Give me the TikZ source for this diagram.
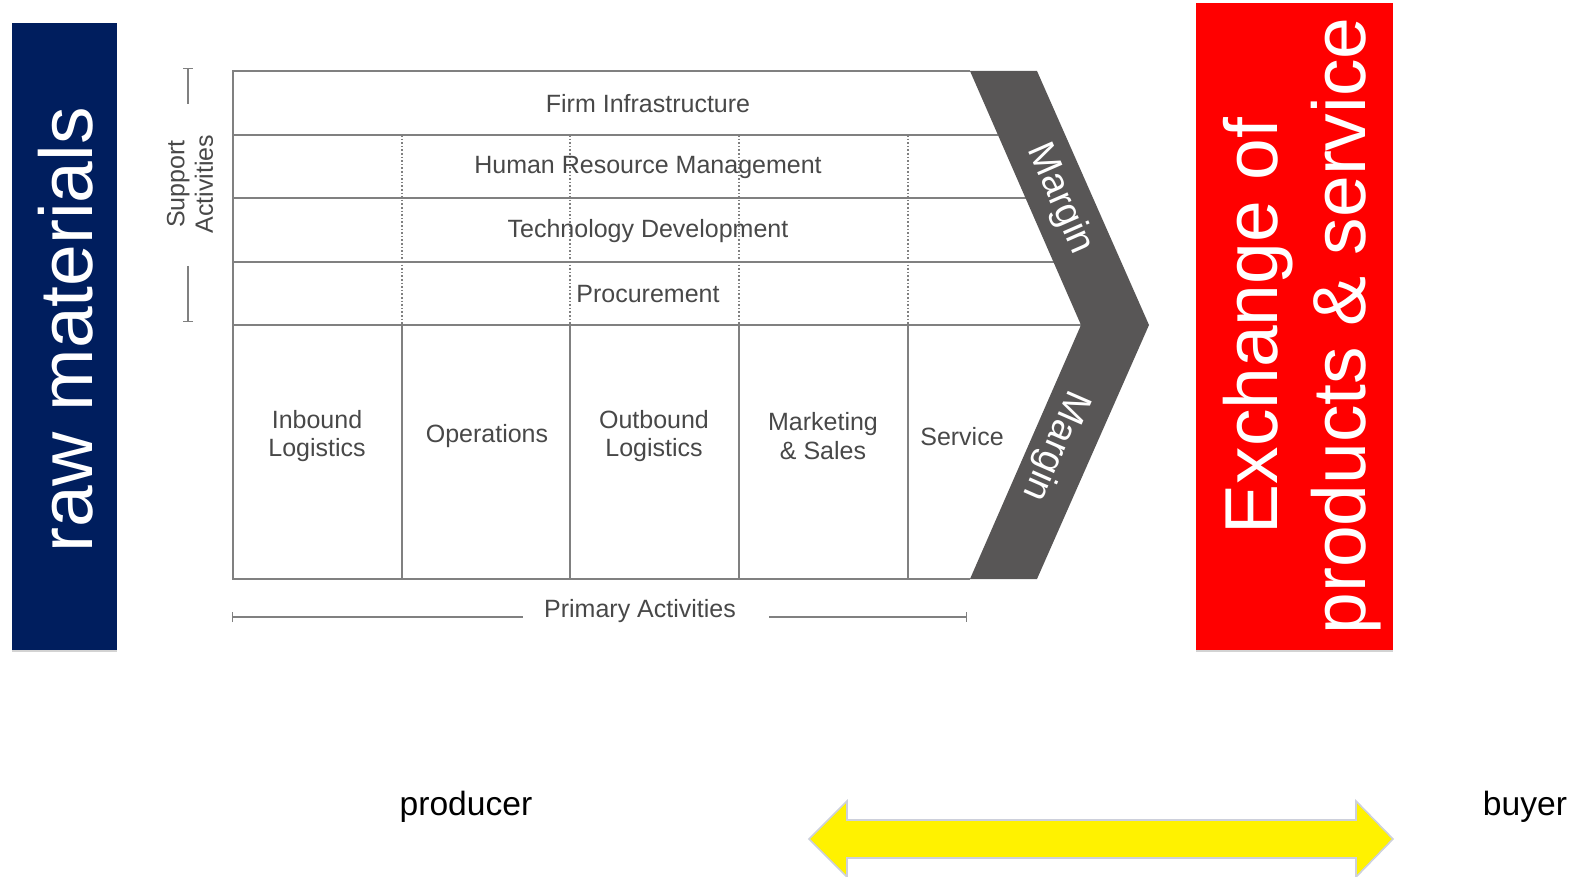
\documentclass[tikz,border=0pt]{standalone}
\usepackage{fontspec}
\setmainfont{Liberation Sans}
\usetikzlibrary{arrows.meta,shadows}

\definecolor{rawblue}{RGB}{0,30,94}
\definecolor{exred}{RGB}{255,0,0}
\definecolor{chevron}{RGB}{88,86,86}
\definecolor{gridgray}{RGB}{128,128,128}
\definecolor{textgray}{RGB}{72,72,72}
\definecolor{arrowedge}{RGB}{205,208,220}

\tikzset{
  chain/.style={draw=gridgray, line width=1pt},
  divider/.style={draw=gridgray, line width=0.8pt, densely dotted},
  cell/.style={text=textgray, font=\fontsize{12.5}{14.2}\selectfont, align=center, inner sep=1pt},
  margintext/.style={text=white, font=\fontsize{19}{20}\selectfont, inner sep=0pt},
  bigtext/.style={text=white, font=\fontsize{37.5}{44}\selectfont, align=center, inner sep=0pt},
  bracket/.style={draw=gridgray, line width=0.7pt},
  plain/.style={font=\fontsize{16.8}{20}\selectfont, inner sep=0pt},
  boxshadow/.style={drop shadow={shadow xshift=0pt, shadow yshift=-1.2pt, opacity=0.35}}
}

\begin{document}
\begin{tikzpicture}[x=0.5pt,y=-0.5pt]
\useasboundingbox (0,0) rectangle (1587,877);

% raw materials
\fill[rawblue, boxshadow] (12,23) rectangle (117,650);
\node[bigtext, rotate=90] (raw) at (66,330) {raw materials};

% exchange
\fill[exred, boxshadow] (1196,3) rectangle (1393,650);
\node[bigtext, rotate=90] (exchange) at (1302,326) {Exchange of\\products \& service};

% value chain grid
\draw[chain] (970,71) -- (233,71) -- (233,579) -- (970,579);
\foreach \y/\x in {135/998,198/1026,262/1054,325/1081}
  \draw[chain] (233,\y) -- (\x,\y);
\foreach \x in {402,570,739,908}{
  \draw[divider] (\x,135) -- (\x,325);
  \draw[chain] (\x,325) -- (\x,579);
}

% margin
\fill[chevron] (970,71) -- (1037,71) -- (1149,325) -- (1037,579) -- (970,579) -- (1081,325) -- cycle;
\node[margintext, rotate=-66.4] (marginup) at (1060,199) {Margin};
\node[margintext, rotate=-113.6] (margindown) at (1055,446) {Margin};

% support rows
\node[cell] (infra) at (648,104) {Firm Infrastructure};
\node[cell] (hrm) at (648,167) {Human Resource Management};
\node[cell] (tech) at (648,231) {Technology Development};
\node[cell] (proc) at (648,294) {Procurement};

% primary columns
\node[cell] (inbound) at (317,436) {Inbound\\Logistics};
\node[cell] (ops) at (487,436) {Operations};
\node[cell] (outbound) at (654,436) {Outbound\\Logistics};
\node[cell] (marketing) at (823,436) {Marketing\\\& Sales};
\node[cell] (service) at (962,437) {Service};

% brackets
\node[cell, rotate=90] (support) at (190,184) {Support\\Activities};
\coordinate (suptop) at (188,68);
\coordinate (supmid1) at (188,104);
\coordinate (supmid2) at (188,266);
\coordinate (supbot) at (188,322);
\draw[bracket, {Bar[width=5pt]}-] (suptop) -- (supmid1);
\draw[bracket, -{Bar[width=5pt]}] (supmid2) -- (supbot);

\node[cell] (primary) at (640,611) {Primary Activities};
\coordinate (primleft) at (232,617);
\coordinate (primmid1) at (523,617);
\coordinate (primmid2) at (769,617);
\coordinate (primright) at (967,617);
\draw[bracket, {Bar[width=5pt]}-] (primleft) -- (primmid1);
\draw[bracket, -{Bar[width=5pt]}] (primmid2) -- (primright);

% producer and buyer
\node[plain] (producer) at (466,807) {producer};
\node[plain] (buyer) at (1525,807) {buyer};
\draw[draw=arrowedge, fill=yellow, line width=0.8pt] (809,839) -- (847,801) -- (847,820) -- (1356,820) -- (1356,801) -- (1393,839) -- (1356,877) -- (1356,858) -- (847,858) -- (847,877) -- cycle;
\end{tikzpicture}
\end{document}
